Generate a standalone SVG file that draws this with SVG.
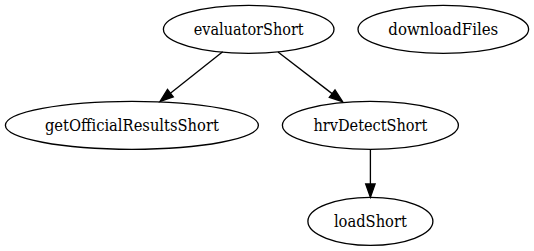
<svg xmlns="http://www.w3.org/2000/svg" width="534" height="251" viewBox="0 0 534 251">
  <style>
    .node ellipse { fill: none; stroke: #000; stroke-width: 1.33; }
    .node text { font-family: 'DejaVu Serif', serif; font-size: 17.5px; text-anchor: middle; fill: #000; }
    .edge line { stroke: #000; stroke-width: 1.33; }
    .edge polygon { fill: #000; stroke: #000; stroke-width: 1.33; }
  </style>
  <rect width="534" height="251" fill="#fff"/>

  <g id="edges">
    <g class="edge" id="evaluatorShort-getOfficialResultsShort">
      <line x1="222.7" y1="51.7" x2="170.4" y2="93.2"/>
      <polygon points="173.3,96.9 160,101.5 167.5,89.5"/>
    </g>
    <g class="edge" id="evaluatorShort-hrvDetectShort">
      <line x1="278" y1="52" x2="332.1" y2="93.6"/>
      <polygon points="329.3,97.3 342.7,101.7 335,89.9"/>
    </g>
    <g class="edge" id="hrvDetectShort-loadShort">
      <line x1="370.4" y1="149.3" x2="370.4" y2="184"/>
      <polygon points="365.7,184 370.4,197.3 375.1,184"/>
    </g>
  </g>

  <g id="nodes">
    <g class="node" id="evaluatorShort">
      <ellipse cx="248.7" cy="29.3" rx="85.3" ry="24"/>
      <text x="248.7" y="35" textLength="110" lengthAdjust="spacingAndGlyphs">evaluatorShort</text>
    </g>
    <g class="node" id="downloadFiles">
      <ellipse cx="443.3" cy="29.3" rx="85.3" ry="24"/>
      <text x="443.3" y="35" textLength="110" lengthAdjust="spacingAndGlyphs">downloadFiles</text>
    </g>
    <g class="node" id="getOfficialResultsShort">
      <ellipse cx="131.9" cy="125.3" rx="126.5" ry="24"/>
      <text x="131.9" y="131" textLength="174" lengthAdjust="spacingAndGlyphs">getOfficialResultsShort</text>
    </g>
    <g class="node" id="hrvDetectShort">
      <ellipse cx="370.4" cy="125.3" rx="88" ry="24"/>
      <text x="370.4" y="131" textLength="114" lengthAdjust="spacingAndGlyphs">hrvDetectShort</text>
    </g>
    <g class="node" id="loadShort">
      <ellipse cx="370.4" cy="221.3" rx="62.5" ry="24"/>
      <text x="370.4" y="227" textLength="73" lengthAdjust="spacingAndGlyphs">loadShort</text>
    </g>
  </g>
</svg>
